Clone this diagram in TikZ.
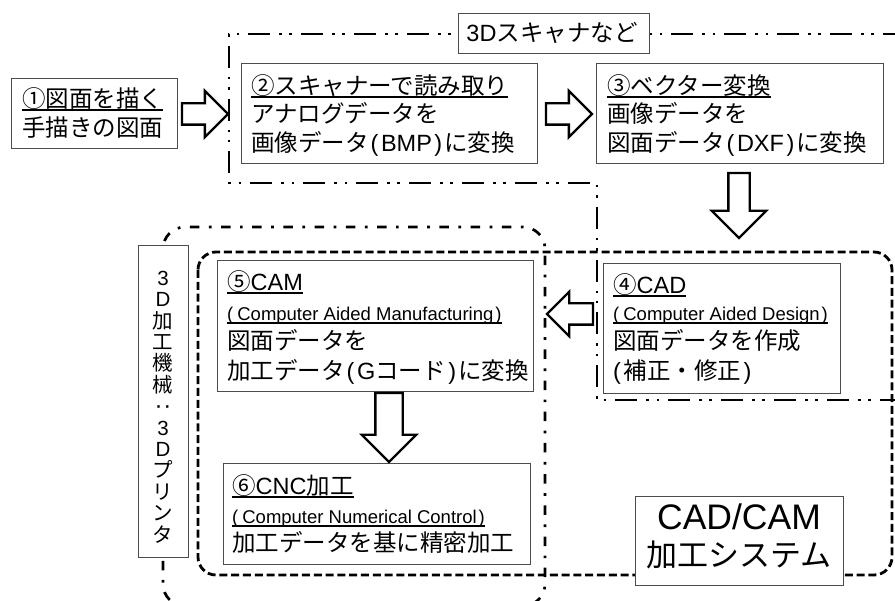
\documentclass[tikz,border=0pt]{standalone}
\usepackage{fontspec}
\usepackage{graphicx}
\setmainfont{Noto Sans CJK JP}
\newfontfamily\lat{Liberation Sans}
\usetikzlibrary{shapes.arrows}
\newcommand\ulx[1]{\setbox0\hbox{#1}\rlap{\rule[-2.6pt]{\wd0}{1.5pt}}\box0}
\newcommand\mainsz{\fontsize{23.5}{28}\selectfont}
\newcommand\smallsz{\fontsize{18.5}{21}\selectfont}
\newcommand\lp{\kern2pt{\lat(}\kern2.5pt}
\newcommand\rp{\kern2.5pt{\lat)}\kern2pt}
\begin{document}
\begin{tikzpicture}[x=1pt,y=-1pt,
  box/.style={draw=black!70, line width=1.3pt, fill=white, inner sep=0pt, anchor=north west},
  txt/.style={anchor=base west, inner sep=0pt, font=\mainsz},
  stxt/.style={anchor=base west, inner sep=0pt, font=\smallsz},
  barrow/.style={single arrow, draw=black, fill=white, line width=2.3pt, inner xsep=0pt,
     inner ysep=9.5pt, outer sep=0pt, single arrow head extend=12.5pt, single arrow tip angle=90,
     minimum height=46pt, anchor=tail},
  scanline/.style={line width=2.7pt, dash pattern=on 22pt off 9pt on 2.7pt off 7.5pt on 2.7pt off 9pt},
  machline/.style={line width=2.7pt, dash pattern=on 9.5pt off 9.5pt on 2.7pt off 9.5pt, rounded corners=22pt},
  camline/.style={line width=2.8pt, dash pattern=on 8pt off 3.8pt, rounded corners=18pt}]
\useasboundingbox (0,0) rectangle (895,601);
\clip (0,0) rectangle (895,601);
\fill[white] (0,0) rectangle (895,601);

% regions
\draw[machline] (163,227) rectangle (545,606);
\draw[camline] (198,252) rectangle (892,575);
\draw[scanline] (905,34) -- (229,34) -- (229,183) -- (597,183) -- (597,400) -- (905,400);

% boxes
\node[box, minimum width=166pt, minimum height=70pt] (b1) at (11,78) {};
\node[box, minimum width=296pt, minimum height=100pt] (b2) at (241,63) {};
\node[box, minimum width=287pt, minimum height=100pt] (b3) at (596,63) {};
\node[box, minimum width=237pt, minimum height=130pt] (b4) at (603,263) {};
\node[box, minimum width=316pt, minimum height=131pt] (b5) at (217,260) {};
\node[box, minimum width=307pt, minimum height=101pt] (b6) at (223,463) {};
\node[box, minimum width=191pt, minimum height=40pt] (scan) at (458,13) {};
\node[box, minimum width=50pt, minimum height=312pt] (mach) at (138,245) {};
\node[box, minimum width=208pt, minimum height=89pt] (cc) at (635,496) {};

% texts
\node[txt] (t1a) at (22,108) {\ulx{①図面を描く}};
\node[txt] (t1b) at (22,137) {手描きの図面};

\node[txt] (t2a) at (251,95) {\ulx{②スキャナーで読み取り}};
\node[txt] (t2b) at (251,123) {アナログデータを};
\node[txt] (t2c) at (251,152) {画像データ\lp{\lat BMP}\rp に変換};

\node[txt] (t3a) at (607,95) {\ulx{③ベクター変換}};
\node[txt] (t3b) at (607,123) {画像データを};
\node[txt] (t3c) at (607,152) {図面データ\lp{\lat DXF}\rp に変換};

\node[txt] (t4a) at (613,294) {\ulx{④{\lat CAD}}};
\node[stxt] (t4b) at (613,321) {\ulx{\lat(\kern4pt Computer Aided Design\kern2pt)}};
\node[txt] (t4c) at (613,350) {図面データを作成};
\node[txt] (t4d) at (611,380) {\lp 補正・修正\rp};

\node[txt] (t5a) at (227,291) {\ulx{⑤{\lat CAM}}};
\node[stxt] (t5b) at (227,321) {\ulx{\lat(\kern4pt Computer Aided Manufacturing\kern2pt)}};
\node[txt] (t5c) at (227,350) {図面データを};
\node[txt] (t5d) at (227,380) {加工データ\lp{\lat G}コード\rp に変換};

\node[txt] (t6a) at (232,495) {\ulx{⑥{\lat CNC}加工}};
\node[stxt] (t6b) at (232,524) {\ulx{\lat(\kern4pt Computer Numerical Control\kern2pt)}};
\node[txt] (t6c) at (232,551) {加工データを基に精密加工};

\node[anchor=base, inner sep=0pt, font=\mainsz] (tscan) at (552,42) {{\lat 3D}スキャナなど};
\node[anchor=base, inner sep=0pt, font={\fontsize{35.5}{38}\selectfont\lat}] (tcc1) at (739,530) {CAD/CAM};
\node[anchor=base, inner sep=0pt, font={\fontsize{31}{36}\selectfont}] (tcc2) at (739,567) {加工システム};
\node[inner sep=0pt, align=center, font={\fontsize{20.5}{21.4}\selectfont}] (tmach) at (163,407)
  {{\lat 3}\\{\lat D}\\加\\工\\機\\械\\{\lat\fontsize{24}{21.4}\selectfont ·\kern1pt·}\\{\lat 3}\\{\lat D}\\プ\\リ\\ン\\タ};

% block arrows
\node[barrow] (a12) at (182,114) {};
\node[barrow] (a23) at (546,114) {};
\node[barrow, rotate=-90, minimum height=65pt, single arrow head extend=16.5pt] (a34) at (739,173) {};
\node[barrow, rotate=180, single arrow head extend=11.5pt] (a45) at (593,314) {};
\node[barrow, rotate=-90, minimum height=69pt, inner ysep=12.5pt, single arrow head extend=13.5pt] (a56) at (389,393) {};
\end{tikzpicture}
\end{document}
